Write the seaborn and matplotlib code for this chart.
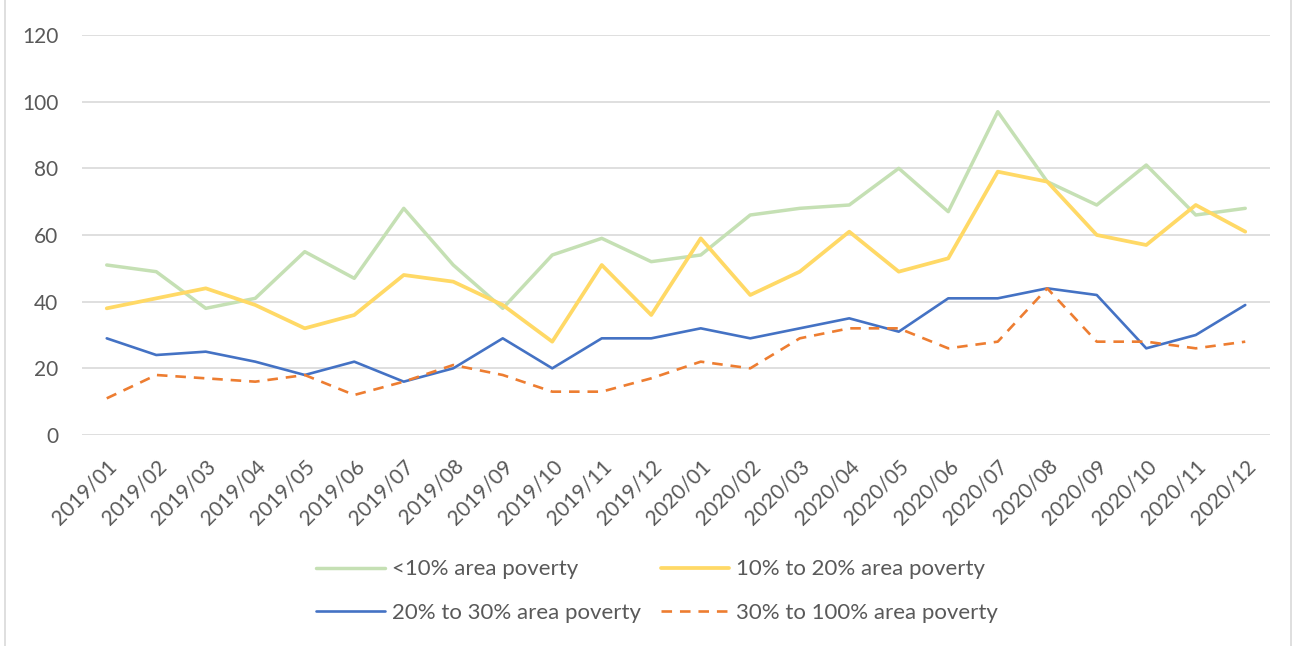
import pandas as pd
import seaborn as sns
import matplotlib.pyplot as plt
import matplotlib.patches as mpatches

# months on the x axis
months = ['2019/01', '2019/02', '2019/03', '2019/04', '2019/05', '2019/06',
          '2019/07', '2019/08', '2019/09', '2019/10', '2019/11', '2019/12',
          '2020/01', '2020/02', '2020/03', '2020/04', '2020/05', '2020/06',
          '2020/07', '2020/08', '2020/09', '2020/10', '2020/11', '2020/12']

# values
below_10 = [51, 49, 38, 41, 55, 47, 68, 51, 38, 54, 59, 52,
            54, 66, 68, 69, 80, 67, 97, 76, 69, 81, 66, 68]
from_10_to_20 = [38, 41, 44, 39, 32, 36, 48, 46, 39, 28, 51, 36,
                 59, 42, 49, 61, 49, 53, 79, 76, 60, 57, 69, 61]
from_20_to_30 = [29, 24, 25, 22, 18, 22, 16, 20, 29, 20, 29, 29,
                 32, 29, 32, 35, 31, 41, 41, 44, 42, 26, 30, 39]
from_30_to_100 = [11, 18, 17, 16, 18, 12, 16, 21, 18, 13, 13, 17,
                  22, 20, 29, 32, 32, 26, 28, 44, 28, 28, 26, 28]

labels = ['<10% area poverty', '10% to 20% area poverty',
          '20% to 30% area poverty', '30% to 100% area poverty']

df = pd.DataFrame({'Month': months,
                   labels[0]: below_10,
                   labels[1]: from_10_to_20,
                   labels[2]: from_20_to_30,
                   labels[3]: from_30_to_100})
df['pos'] = range(len(months))

sns.set_theme(style='white')
plt.rcParams['font.family'] = ['Lato', 'DejaVu Sans']

text_col = '#595959'
styles = [
    (labels[0], '#c5e0b4', 2.5, '-'),
    (labels[1], '#ffd966', 2.7, '-'),
    (labels[2], '#4472c4', 1.9, '-'),
    (labels[3], '#ed7d31', 1.9, '--'),
]

fig = plt.figure(figsize=(12.99, 6.46), dpi=100)
ax = fig.add_axes([82 / 1299, (646 - 435) / 646, (1270 - 82) / 1299, 400 / 646])

for name, color, lw, ls in styles:
    sns.lineplot(data=df, x='pos', y=name, ax=ax, color=color,
                 linewidth=lw, linestyle=ls, label=name, legend=False)
ax.lines[-1].set_dashes([4, 3])

ax.set_ylim(0, 120)
ax.set_yticks(range(0, 121, 20))
ax.set_xlim(-0.5, len(months) - 0.5)
ax.set_xticks(df['pos'])
ax.set_xticklabels(months, rotation=45, ha='right', rotation_mode='anchor')
ax.tick_params(axis='both', labelsize=15, colors=text_col, length=0)
ax.tick_params(axis='x', pad=15)
ax.tick_params(axis='y', pad=17)
ax.grid(axis='y', color='#d9d9d9', linewidth=1.2)
ax.set_axisbelow(True)
for s in ax.spines.values():
    s.set_visible(False)
ax.set_xlabel('')
ax.set_ylabel('')

# legend rows: green/yellow on top, blue/orange below
lines = ax.get_lines()
order = [0, 2, 1, 3]
leg = fig.legend(handles=[lines[i] for i in order], labels=[labels[i] for i in order],
                 ncol=2, frameon=False, loc='center', bbox_to_anchor=(657 / 1299, 0.085),
                 fontsize=16, handlelength=3.1, columnspacing=0.9,
                 labelspacing=1.05, handletextpad=0.3)
for t in leg.get_texts():
    t.set_color(text_col)

# light chart border
fig.patches.append(mpatches.Rectangle((0.004, -0.01), 0.99, 1.05, transform=fig.transFigure,
                                      fill=False, edgecolor='#d9d9d9', linewidth=1.2))

fig.savefig('out.png', dpi=100)
